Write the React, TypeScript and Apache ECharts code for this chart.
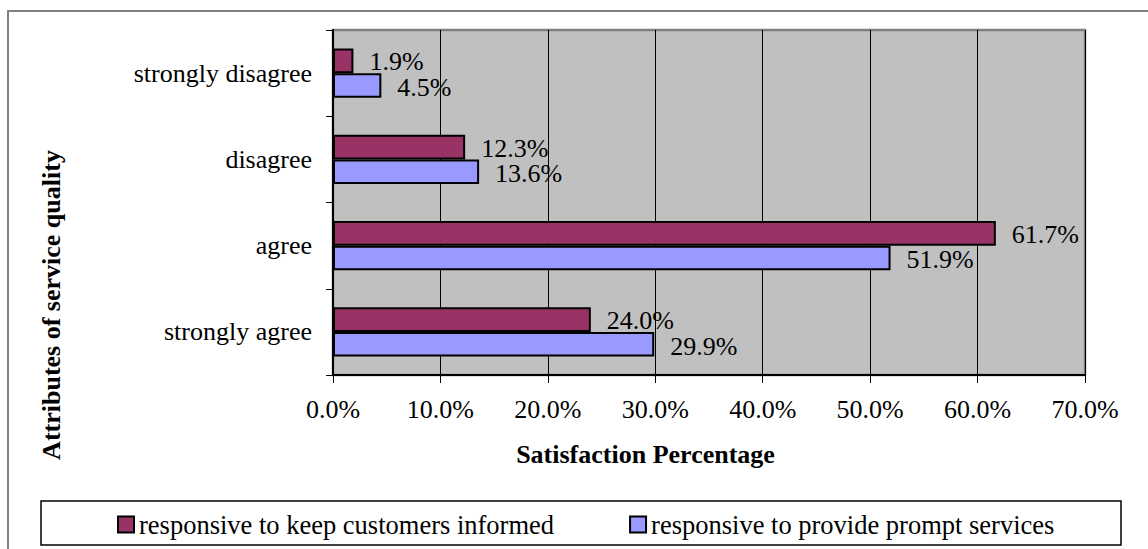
import React, { useEffect, useRef } from "react";
import * as echarts from "echarts";

// Response categories, listed bottom to top along the vertical axis
const categories = ["strongly agree", "agree", "disagree", "strongly disagree"];

// Satisfaction percentages per response category
const informedValues = [24.0, 61.7, 12.3, 1.9];
const promptValues = [29.9, 51.9, 13.6, 4.5];

const seriesNames = [
  "responsive to keep customers informed",
  "responsive to provide prompt services",
];

// Value axis ticks (percent)
const axisMin = 0;
const axisMax = 70;
const axisStep = 10;

const FONT = "'Liberation Serif', 'Times New Roman', serif";

export default function App() {
  const ref = useRef<HTMLDivElement>(null);

  useEffect(() => {
    if (!ref.current) return;
    const chart = echarts.init(ref.current, null, { renderer: "svg" });

    const pct = (p: any) => Number(p.value).toFixed(1) + "%";

    const barLabel = (dy: number) => ({
      show: true,
      position: "right",
      distance: 16,
      offset: [0, dy],
      color: "#000",
      fontFamily: FONT,
      fontSize: 26,
      lineHeight: 23,
      formatter: pct,
    });

    chart.setOption({
      animation: false,
      backgroundColor: "#fff",
      textStyle: { fontFamily: FONT },
      grid: {
        left: 333,
        right: 63,
        top: 30,
        bottom: 174,
        show: true,
        backgroundColor: "#C0C0C0",
        borderColor: "#808080",
        borderWidth: 2.5,
      },
      xAxis: {
        type: "value",
        min: axisMin,
        max: axisMax,
        interval: axisStep,
        axisLine: { show: true, lineStyle: { color: "#000", width: 2 } },
        axisTick: { show: true, inside: false, length: 8, lineStyle: { color: "#000", width: 1 } },
        axisLabel: {
          margin: 21,
          color: "#000",
          fontFamily: FONT,
          fontSize: 26,
          formatter: (v: number) => v.toFixed(1) + "%",
        },
        splitLine: { show: true, lineStyle: { color: "#000", width: 1 } },
      },
      yAxis: {
        type: "category",
        data: categories,
        axisLine: { show: true, lineStyle: { color: "#000", width: 2 } },
        axisTick: { show: true, inside: false, length: 7, lineStyle: { color: "#000", width: 1 } },
        axisLabel: {
          margin: 21,
          color: "#000",
          fontFamily: FONT,
          fontSize: 26,
        },
        splitLine: { show: false },
      },
      legend: {
        data: seriesNames,
        left: 117,
        top: 511,
        padding: 0,
        itemWidth: 16,
        itemHeight: 16,
        itemGap: 75,
        icon: "rect",
        itemStyle: { borderColor: "#000", borderWidth: 2 },
        textStyle: { color: "#000", fontFamily: FONT, fontSize: 26.5 },
      },
      series: [
        {
          name: seriesNames[0],
          type: "bar",
          data: informedValues,
          barGap: "0%",
          barCategoryGap: "43%",
          itemStyle: { color: "#993366", borderColor: "#000", borderWidth: 2 },
          label: barLabel(1),
        },
        {
          name: seriesNames[1],
          type: "bar",
          data: promptValues,
          barGap: "0%",
          barCategoryGap: "43%",
          itemStyle: { color: "#9999FF", borderColor: "#000", borderWidth: 2 },
          label: barLabel(2),
        },
      ],
      graphic: [
        {
          type: "rect",
          silent: true,
          z: -10,
          shape: { x: 8, y: 11, width: 1400, height: 800 },
          style: { fill: "none", stroke: "#808080", lineWidth: 2 },
        },
        {
          type: "rect",
          silent: true,
          shape: { x: 41, y: 501, width: 1080, height: 44 },
          style: { fill: "none", stroke: "#000", lineWidth: 1.5 },
        },
        {
          type: "text",
          silent: true,
          x: 645.5,
          y: 454,
          style: {
            text: "Satisfaction Percentage",
            fontFamily: FONT,
            fontSize: 26,
            fontWeight: "bold",
            fill: "#000",
            align: "center",
            verticalAlign: "middle",
          },
        },
        {
          type: "text",
          silent: true,
          x: 51,
          y: 305,
          rotation: Math.PI / 2,
          style: {
            text: "Attributes of service quality",
            fontFamily: FONT,
            fontSize: 26,
            fontWeight: "bold",
            fill: "#000",
            align: "center",
            verticalAlign: "middle",
          },
        },
      ],
    });

    return () => chart.dispose();
  }, []);

  return (
    <div
      ref={ref}
      style={{ position: "fixed", left: 0, top: 0, width: 1148, height: 549 }}
    />
  );
}
